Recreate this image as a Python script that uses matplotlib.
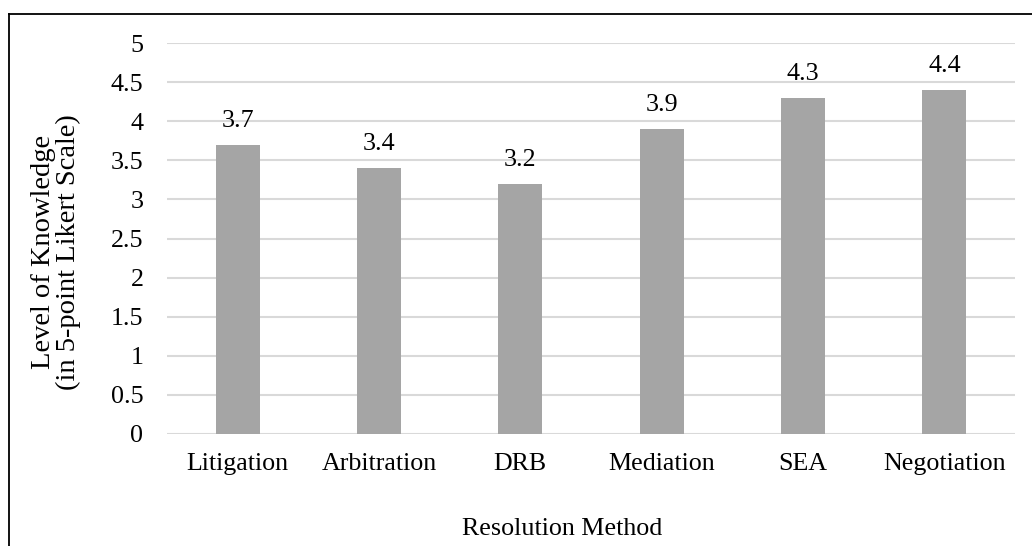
import matplotlib.pyplot as plt
from matplotlib.lines import Line2D

plt.rcParams['font.family'] = ['Liberation Serif', 'DejaVu Serif']

methods = ['Litigation', 'Arbitration', 'DRB', 'Mediation', 'SEA', 'Negotiation']
knowledge = [3.7, 3.4, 3.2, 3.9, 4.3, 4.4]
y_ticks = [0, 0.5, 1, 1.5, 2, 2.5, 3, 3.5, 4, 4.5, 5]

W, H = 1032, 546
FS = 18.7
fig = plt.figure(figsize=(W / 100, H / 100), dpi=100)
ax = fig.add_axes([167 / W, 1 - 434 / H, (1015 - 167) / W, (434 - 43) / H])

x = range(len(methods))
bars = ax.bar(x, knowledge, width=0.31, color='#A5A5A5', zorder=3)
for rect, v in zip(bars, knowledge):
    ax.annotate(f'{v:.1f}', (rect.get_x() + rect.get_width() / 2, v),
                xytext=(0, 13), textcoords='offset points',
                ha='center', va='baseline', fontsize=FS)

ax.set_xlim(-0.5, len(methods) - 0.5)
ax.set_ylim(0, 5)
ax.set_yticks(y_ticks)
ax.set_yticklabels([f'{t:g}' for t in y_ticks])
ax.set_xticks(list(x))
ax.set_xticklabels(methods)
ax.tick_params(axis='both', length=0, labelsize=FS)
ax.tick_params(axis='y', pad=17)
ax.tick_params(axis='x', pad=13.5)
ax.grid(axis='y', color='#D9D9D9', linewidth=1.5, zorder=0)
for s in ax.spines.values():
    s.set_visible(False)

fig.text(56 / W, 1 - 252 / H, 'Level of Knowledge\n(in 5-point Likert Scale)',
         rotation=90, ha='center', va='center', fontsize=20.5, linespacing=1.0)
fig.text(562 / W, 1 - 535 / H, 'Resolution Method', ha='center', va='baseline',
         fontsize=FS)

# outer frame (left and top edges)
fig.add_artist(Line2D([8.5 / W, 8.5 / W], [0, 1 - 13.5 / H], color='black',
                      linewidth=1.3, transform=fig.transFigure))
fig.add_artist(Line2D([8.5 / W, 1], [1 - 13.5 / H, 1 - 13.5 / H], color='black',
                      linewidth=1.3, transform=fig.transFigure))

fig.savefig('out.png', dpi=100)
